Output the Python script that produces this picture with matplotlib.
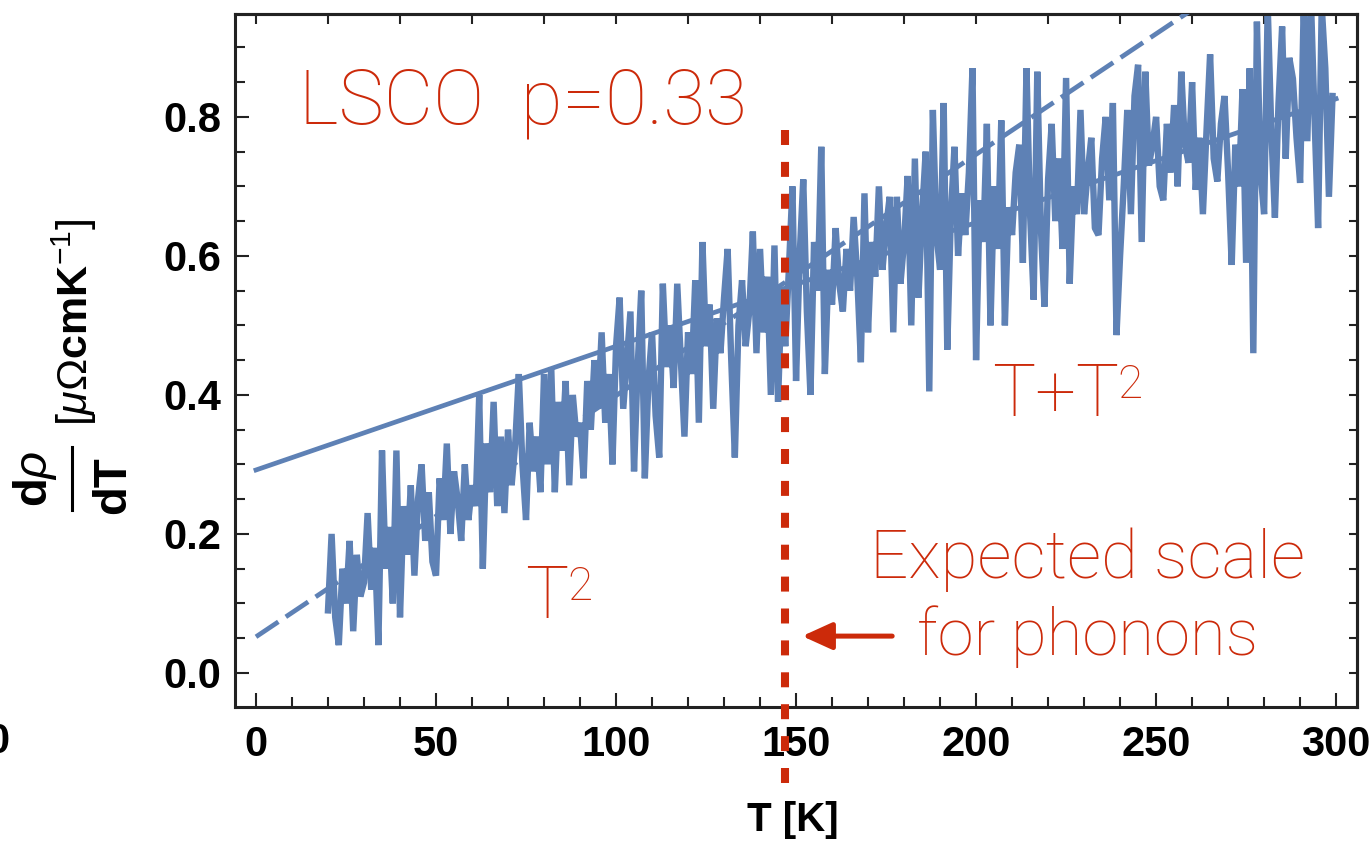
import matplotlib.pyplot as plt
import numpy as np
from matplotlib.lines import Line2D
from matplotlib.ticker import MultipleLocator

plt.rcParams['font.family'] = 'Liberation Sans'
plt.rcParams['mathtext.fontset'] = 'custom'
plt.rcParams['mathtext.rm'] = 'Liberation Sans'
plt.rcParams['mathtext.it'] = 'Liberation Sans:italic'
plt.rcParams['mathtext.bf'] = 'Liberation Sans:bold'

# measured derivative of the resistivity, LSCO p=0.33, 1 K steps from 20 K
T_data = np.arange(20, 300)
drho_dT = [
    0.09, 0.20, 0.08, 0.04, 0.15, 0.10, 0.19, 0.06, 0.17, 0.11,
    0.13, 0.23, 0.12, 0.18, 0.04, 0.32, 0.15, 0.21, 0.10, 0.32,
    0.08, 0.24, 0.17, 0.27, 0.14, 0.25, 0.30, 0.19, 0.26, 0.16,
    0.14, 0.28, 0.22, 0.33, 0.20, 0.29, 0.25, 0.19, 0.30, 0.22,
    0.27, 0.24, 0.40, 0.15, 0.33, 0.26, 0.39, 0.24, 0.34, 0.23,
    0.35, 0.27, 0.33, 0.43, 0.30, 0.22, 0.36, 0.29, 0.34, 0.26,
    0.43, 0.30, 0.44, 0.26, 0.39, 0.32, 0.42, 0.27, 0.40, 0.34,
    0.36, 0.28, 0.42, 0.35, 0.45, 0.38, 0.49, 0.36, 0.43, 0.30,
    0.47, 0.54, 0.38, 0.45, 0.52, 0.29, 0.44, 0.55, 0.28, 0.42,
    0.49, 0.37, 0.31, 0.56, 0.44, 0.50, 0.41, 0.56, 0.45, 0.34,
    0.49, 0.43, 0.565, 0.36, 0.62, 0.47, 0.53, 0.38, 0.51, 0.46,
    0.54, 0.61, 0.45, 0.31, 0.50, 0.565, 0.47, 0.52, 0.635, 0.46,
    0.61, 0.49, 0.57, 0.40, 0.615, 0.39, 0.55, 0.47, 0.58, 0.70,
    0.42, 0.60, 0.71, 0.52, 0.40, 0.62, 0.55, 0.757, 0.43, 0.58,
    0.53, 0.64, 0.56, 0.52, 0.61, 0.55, 0.656, 0.57, 0.447, 0.69,
    0.49, 0.62, 0.57, 0.70, 0.58, 0.64, 0.685, 0.49, 0.685, 0.56,
    0.62, 0.715, 0.50, 0.74, 0.54, 0.66, 0.75, 0.405, 0.81, 0.63,
    0.58, 0.82, 0.465, 0.66, 0.757, 0.60, 0.69, 0.63, 0.72, 0.87,
    0.45, 0.68, 0.62, 0.79, 0.50, 0.70, 0.61, 0.795, 0.50, 0.67,
    0.63, 0.72, 0.76, 0.59, 0.87, 0.66, 0.537, 0.865, 0.64, 0.527,
    0.71, 0.79, 0.65, 0.74, 0.61, 0.856, 0.56, 0.70, 0.66, 0.81,
    0.66, 0.72, 0.77, 0.64, 0.63, 0.74, 0.80, 0.68, 0.82, 0.486,
    0.60, 0.70, 0.81, 0.66, 0.83, 0.875, 0.62, 0.865, 0.73, 0.76,
    0.80, 0.70, 0.68, 0.79, 0.72, 0.817, 0.70, 0.865, 0.76, 0.734,
    0.85, 0.695, 0.77, 0.66, 0.78, 0.89, 0.74, 0.707, 0.79, 0.83,
    0.72, 0.587, 0.76, 0.70, 0.84, 0.59, 0.87, 0.46, 0.937, 0.72,
    0.66, 0.96, 0.78, 0.655, 0.82, 0.93, 0.74, 0.885, 0.855, 0.77,
    0.705, 0.96, 0.765, 0.97, 0.80, 0.64, 0.96, 0.87, 0.685, 0.83,
]

# fits evaluated at the ends of the range
fit_T = [0, 300]
fit_T_T2 = [0.292, 0.826]   # T + T^2
fit_T2 = [0.052, 1.093]     # T^2 only

phonon_T = 147

blue = '#5E81B5'
red = '#CC2A0A'
frame = '#222222'

fig = plt.figure(figsize=(13.72, 8.46), dpi=100)
ax = fig.add_axes([235 / 1372, 1 - 707 / 846, 1122 / 1372, 693 / 846])

ax.plot(T_data, drho_dT, color=blue, lw=4.6, solid_joinstyle='bevel', zorder=2)
ax.plot(fit_T, fit_T_T2, color=blue, lw=3.4, zorder=3)
ax.plot(fit_T, fit_T2, color=blue, lw=3.4, linestyle=(0, (5.7, 1.9)), zorder=3)

ax.set_xlim(-5.83, 305.8)
ax.set_ylim(-0.049, 0.948)

ax.set_xticks(np.arange(0, 301, 50))
ax.set_yticks([0.0, 0.2, 0.4, 0.6, 0.8])
ax.xaxis.set_minor_locator(MultipleLocator(10))
ax.yaxis.set_minor_locator(MultipleLocator(0.05))
ax.tick_params(which='both', direction='in', top=False, right=False, width=1.5, color=frame)
ax.tick_params(which='major', length=10, labelsize=30)
ax.tick_params(axis='x', which='major', pad=13)
ax.tick_params(axis='y', which='major', pad=10)
ax.tick_params(which='minor', length=7)
for lbl in ax.get_xticklabels() + ax.get_yticklabels():
    lbl.set_fontweight('bold')

for sp in ax.spines.values():
    sp.set_linewidth(2.2)
    sp.set_color(frame)

secx = ax.secondary_xaxis('top')
secx.set_xticks(np.arange(0, 301, 20))
secx.set_xticklabels([])
secx.tick_params(direction='in', length=7, width=1.5, color=frame)
secx.spines['top'].set_linewidth(2.2)

secy = ax.secondary_yaxis('right')
secy.set_yticks(np.arange(0, 0.96, 0.05))
secy.set_yticklabels([])
secy.tick_params(direction='in', length=6, width=1.5, color=frame)
secy.spines['right'].set_linewidth(2.2)

ax.set_xlabel('T [K]', fontsize=29, fontweight='bold')
ax.xaxis.set_label_coords(0.497, -0.135)
ax.xaxis.label.set_va('top')

# y label: d rho / dT written as a stacked fraction, then the unit
fy = lambda py: 1 - py / 846
fx = lambda px: px / 1372
fig.text(fx(35), fy(479), r'$\mathbf{d}\rho$', rotation=90, ha='center', va='center', fontsize=34)
fig.text(fx(113), fy(485), 'dT', rotation=90, ha='center', va='center',
         fontsize=34, fontweight='bold')
fig.add_artist(Line2D([fx(72), fx(72)], [fy(447), fy(510)], lw=2.2, color='k'))
fig.text(fx(74), fy(322), r'$[\mu\Omega\mathbf{cmK}^{-1}]$', rotation=90,
         ha='center', va='center', fontsize=31)

# stray tick label at the left edge
fig.text(fx(9), fy(722), '0', ha='right', va='top', fontsize=30, fontweight='bold')

# phonon temperature scale
ax.plot([phonon_T, phonon_T], [0.781, -0.161], color=red, lw=5.8,
        linestyle=(0, (1.86, 2.1)), clip_on=False, zorder=5)
ax.annotate('', xy=(151.7, 0.053), xytext=(176.7, 0.053),
            arrowprops=dict(arrowstyle='-|>,head_length=0.55,head_width=0.25',
                            color=red, lw=3.6, mutation_scale=33,
                            shrinkA=0, shrinkB=0))

txt = dict(family='Roboto', fontweight='light', color=red, va='baseline')
ax.text(12.0, 0.79, 'LSCO  p=0.33', fontsize=55, ha='left', **txt)
ax.text(204.4, 0.37, 'T+T', fontsize=52, ha='left', **txt)
ax.text(239.2, 0.396, '2', fontsize=33, ha='left', **txt)
ax.text(74.7, 0.079, 'T', fontsize=52, ha='left', **txt)
ax.text(86.6, 0.105, '2', fontsize=33, ha='left', **txt)
ax.text(231, 0.137, 'Expected scale', fontsize=48.5, ha='center', **txt)
ax.text(231, 0.026, 'for phonons', fontsize=47, ha='center', **txt)

fig.savefig('out.png', dpi=100)
